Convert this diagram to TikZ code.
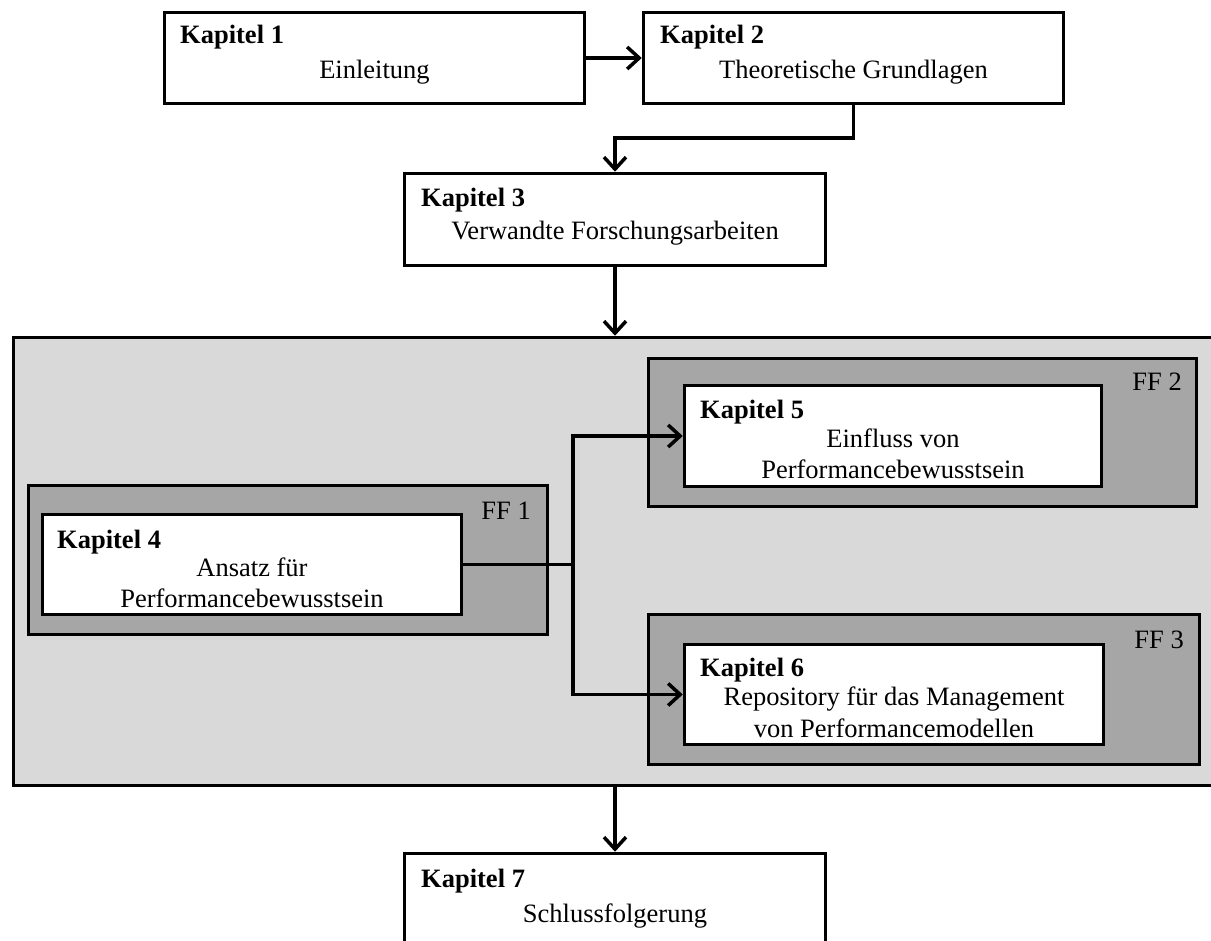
\documentclass[tikz,border=0pt]{standalone}
\usepackage{fontspec}
\setmainfont{Liberation Serif}
\usetikzlibrary{arrows.meta}
\definecolor{paneGray}{HTML}{D9D9D9}
\definecolor{ffGray}{HTML}{A6A6A6}
\begin{document}
\begin{tikzpicture}[x=1pt,y=-1pt,
  font=\fontsize{26.5}{30}\selectfont,
  frame/.style={draw=black, line width=3.5pt, inner sep=0pt, rectangle},
  chapbox/.style={frame, fill=white},
  ffbox/.style={frame, fill=ffGray},
  pane/.style={frame, fill=paneGray},
  conn/.style={line width=3.5pt},
  arr/.style={conn, -{Straight Barb[length=12pt,width=22pt]}},
  title/.style={anchor=base west, inner sep=0pt, font=\fontsize{26.5}{30}\selectfont\bfseries},
  body/.style={anchor=base, inner sep=0pt},
  tag/.style={anchor=base east, inner sep=0pt}
]
\useasboundingbox (0,0) rectangle (1211,941);
\clip (0,0) rectangle (1211,941);

% chapter boxes of the first part
\node[chapbox, minimum width=420pt, minimum height=91pt] (b1) at (374.5,58) {};
\node[chapbox, minimum width=420pt, minimum height=91pt] (b2) at (853.5,58) {};
\node[chapbox, minimum width=421pt, minimum height=92pt] (b3) at (615,219.5) {};

% main part with the three research questions
\node[pane, minimum width=1199.5pt, minimum height=448pt] (pane) at (613.25,561.5) {};
\node[ffbox, minimum width=519pt, minimum height=149pt] (ff1) at (288,560) {};
\node[ffbox, minimum width=548pt, minimum height=148pt] (ff2) at (922.5,432.5) {};
\node[ffbox, minimum width=551pt, minimum height=150pt] (ff3) at (924,689.5) {};
\node[chapbox, minimum width=419pt, minimum height=100pt] (k4) at (252,564.5) {};
\node[chapbox, minimum width=417pt, minimum height=101pt] (k5) at (893,436) {};
\node[chapbox, minimum width=419pt, minimum height=100pt] (k6) at (894,694.5) {};

% conclusion
\node[chapbox, minimum width=421pt, minimum height=146.5pt] (k7) at (615,926.75) {};

% connectors
\draw[arr] (b1) -- (b2);
\draw[arr] (b2.south) -- ++(0,33) -| (b3.north);
\draw[arr] (b3.south) -- (b3.south |- pane.north);
\coordinate (jct) at (573,564.5);
\draw[conn] (k4.east) -- (jct);
\draw[arr] (jct) |- (k5.west);
\draw[arr] (jct) |- (k6.west);
\draw[arr] (k7.north |- pane.south) -- (k7.north);

% texts
\node[title] (t1) at (180,44) {Kapitel 1};
\node[body] (e1) at (374.5,79) {Einleitung};
\node[title] (t2) at (660,44) {Kapitel 2};
\node[body] (e2) at (853.5,79) {Theoretische Grundlagen};
\node[title] (t3) at (421,207) {Kapitel 3};
\node[body] (e3) at (615,240) {Verwandte Forschungsarbeiten};

\node[title] (t4) at (57,548) {Kapitel 4};
\node[body] (e4a) at (252,576) {Ansatz für};
\node[body] (e4b) at (252,607) {Performancebewusstsein};
\node[tag] (f1) at (531,519) {FF 1};

\node[title] (t5) at (700,419) {Kapitel 5};
\node[body] (e5a) at (893,447) {Einfluss von};
\node[body] (e5b) at (893,478) {Performancebewusstsein};
\node[tag] (f2) at (1182,391) {FF 2};

\node[title] (t6) at (700,676) {Kapitel 6};
\node[body] (e6a) at (894,705) {Repository für das Management};
\node[body] (e6b) at (894,737) {von Performancemodellen};
\node[tag] (f3) at (1184,648) {FF 3};

\node[title] (t7) at (421,887) {Kapitel 7};
\node[body] (e7) at (615,922) {Schlussfolgerung};
\end{tikzpicture}
\end{document}
